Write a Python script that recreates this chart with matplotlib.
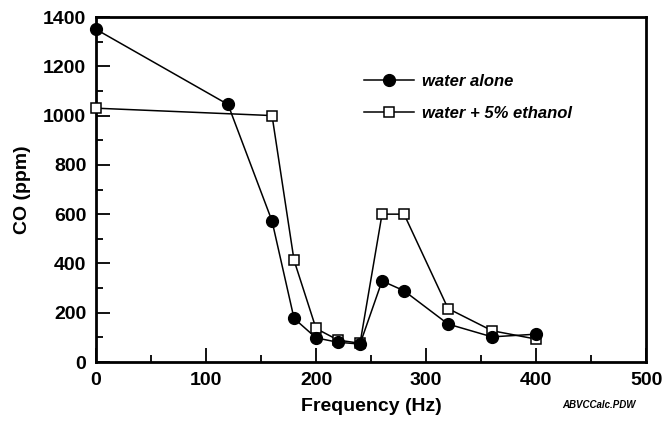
import numpy as np
import matplotlib
matplotlib.use("Agg")
import matplotlib.pyplot as plt
from matplotlib.ticker import MultipleLocator

plt.rcParams['font.family'] = ['Liberation Sans', 'DejaVu Sans']

# frequency (Hz) and CO (ppm)
freq_water = [0, 120, 160, 180, 200, 220, 240, 260, 280, 320, 360, 400]
co_water = [1350, 1045, 572, 177, 98, 80, 73, 329, 289, 154, 102, 113]

freq_ethanol = [0, 160, 180, 200, 220, 240, 260, 280, 320, 360, 400]
co_ethanol = [1030, 1000, 413, 136, 89, 76, 600, 600, 217, 127, 93]

label_water = "water alone"
label_ethanol = "water + 5% ethanol"

fig = plt.figure(figsize=(6.64, 4.36), dpi=100)
ax = fig.add_axes([0.1446, 0.1697, 0.8284, 0.7913])

ax.plot(freq_ethanol, co_ethanol, color='black', linewidth=1.1, marker='s',
        markersize=7.5, markerfacecolor='white', markeredgecolor='black',
        markeredgewidth=1.1, label=label_ethanol, zorder=3, clip_on=False)
ax.plot(freq_water, co_water, color='black', linewidth=1.1, marker='o',
        markersize=8.5, markerfacecolor='black', markeredgecolor='black',
        label=label_water, zorder=4, clip_on=False)

ax.set_xlim(0, 500)
ax.set_ylim(0, 1400)
ax.xaxis.set_major_locator(MultipleLocator(100))
ax.xaxis.set_minor_locator(MultipleLocator(50))
ax.yaxis.set_major_locator(MultipleLocator(200))
ax.yaxis.set_minor_locator(MultipleLocator(100))
ax.tick_params(which='both', direction='in', top=False, right=False, width=1.3)
ax.tick_params(which='major', length=10, labelsize=14, pad=7)
ax.tick_params(which='minor', length=5)
for lab in ax.get_xticklabels() + ax.get_yticklabels():
    lab.set_fontweight('bold')
for sp in ax.spines.values():
    sp.set_linewidth(2)

ax.set_xlabel("Frequency (Hz)", fontsize=14, fontweight='bold', labelpad=7)
ax.set_ylabel("CO (ppm)", fontsize=14, fontweight='bold', labelpad=9)

h, l = ax.get_legend_handles_labels()
leg = ax.legend(h[::-1], l[::-1], loc='upper left', bbox_to_anchor=(0.46, 0.878),
                frameon=False, handlelength=3.0, handletextpad=0.5,
                labelspacing=1.0, prop={'size': 12, 'weight': 'bold', 'style': 'italic'})

fig.text(0.958, 0.07, "ABVCCalc.PDW", fontsize=7, fontweight='bold',
         fontstyle='italic', ha='right', va='center')

fig.savefig("out.png", dpi=100)
